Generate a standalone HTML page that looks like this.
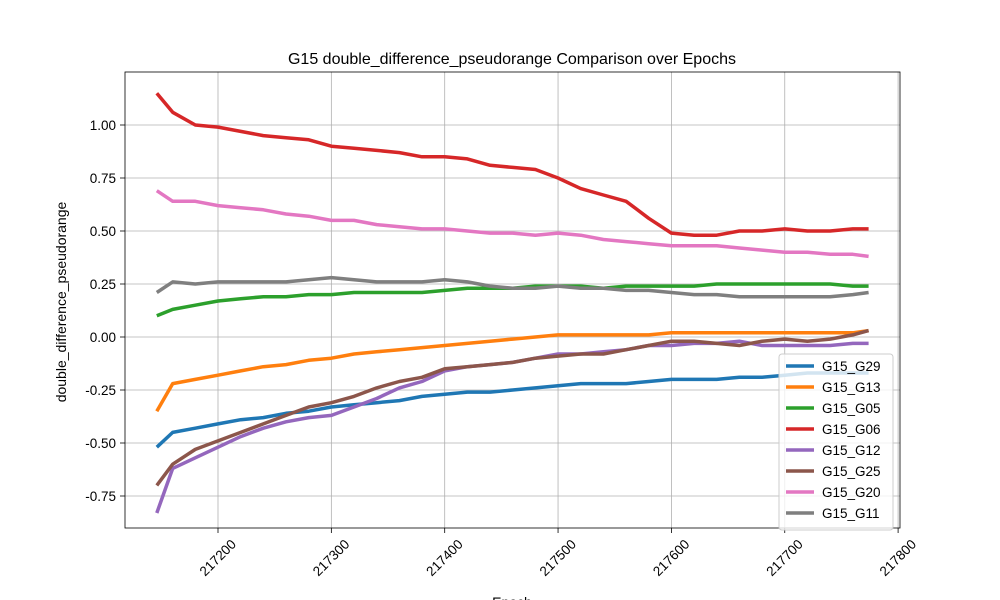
<!DOCTYPE html>
<html><head><meta charset="utf-8"><style>
body{margin:0;background:#fff;}
svg{display:block;font-family:"Liberation Sans","DejaVu Sans",sans-serif;}
</style></head><body>
<svg id="chart" width="1000" height="600">
<rect width="1000" height="600" fill="#fff"/>
<text x="512" y="64" font-size="16" text-anchor="middle">G15 double_difference_pseudorange Comparison over Epochs</text>
<g id="grid"></g><g id="axes"></g><g id="series"></g><g id="legend"></g>
<text x="512" y="607" font-size="14" text-anchor="middle">Epoch</text>
<text transform="translate(66,302) rotate(-90)" font-size="14" text-anchor="middle">double_difference_pseudorange</text>
</svg>
<script>
const epochs=[217146,217160,217180,217200,217220,217240,217260,217280,217300,217320,217340,217360,217380,217400,217420,217440,217460,217480,217500,217520,217540,217560,217580,217600,217620,217640,217660,217680,217700,217720,217740,217760,217774];
const seriesNames=["G15_G29","G15_G13","G15_G05","G15_G06","G15_G12","G15_G25","G15_G20","G15_G11"];
const g29=[-0.52,-0.45,-0.43,-0.41,-0.39,-0.38,-0.36,-0.35,-0.33,-0.32,-0.31,-0.30,-0.28,-0.27,-0.26,-0.26,-0.25,-0.24,-0.23,-0.22,-0.22,-0.22,-0.21,-0.20,-0.20,-0.20,-0.19,-0.19,-0.18,-0.17,-0.17,-0.17,-0.17];
const g13=[-0.35,-0.22,-0.20,-0.18,-0.16,-0.14,-0.13,-0.11,-0.10,-0.08,-0.07,-0.06,-0.05,-0.04,-0.03,-0.02,-0.01,0.00,0.01,0.01,0.01,0.01,0.01,0.02,0.02,0.02,0.02,0.02,0.02,0.02,0.02,0.02,0.03];
const g05=[0.10,0.13,0.15,0.17,0.18,0.19,0.19,0.20,0.20,0.21,0.21,0.21,0.21,0.22,0.23,0.23,0.23,0.24,0.24,0.24,0.23,0.24,0.24,0.24,0.24,0.25,0.25,0.25,0.25,0.25,0.25,0.24,0.24];
const g06=[1.15,1.06,1.00,0.99,0.97,0.95,0.94,0.93,0.90,0.89,0.88,0.87,0.85,0.85,0.84,0.81,0.80,0.79,0.75,0.70,0.67,0.64,0.56,0.49,0.48,0.48,0.50,0.50,0.51,0.50,0.50,0.51,0.51];
const g12=[-0.83,-0.62,-0.57,-0.52,-0.47,-0.43,-0.40,-0.38,-0.37,-0.33,-0.29,-0.24,-0.21,-0.16,-0.14,-0.13,-0.12,-0.10,-0.08,-0.08,-0.07,-0.06,-0.04,-0.04,-0.03,-0.03,-0.02,-0.04,-0.04,-0.04,-0.04,-0.03,-0.03];
const g25=[-0.70,-0.60,-0.53,-0.49,-0.45,-0.41,-0.37,-0.33,-0.31,-0.28,-0.24,-0.21,-0.19,-0.15,-0.14,-0.13,-0.12,-0.10,-0.09,-0.08,-0.08,-0.06,-0.04,-0.02,-0.02,-0.03,-0.04,-0.02,-0.01,-0.02,-0.01,0.01,0.03];
const g20=[0.69,0.64,0.64,0.62,0.61,0.60,0.58,0.57,0.55,0.55,0.53,0.52,0.51,0.51,0.50,0.49,0.49,0.48,0.49,0.48,0.46,0.45,0.44,0.43,0.43,0.43,0.42,0.41,0.40,0.40,0.39,0.39,0.38];
const g11=[0.21,0.26,0.25,0.26,0.26,0.26,0.26,0.27,0.28,0.27,0.26,0.26,0.26,0.27,0.26,0.24,0.23,0.23,0.24,0.23,0.23,0.22,0.22,0.21,0.20,0.20,0.19,0.19,0.19,0.19,0.19,0.20,0.21];
const xTicks=[217200,217300,217400,217500,217600,217700,217800];
const yTicks=[-0.75,-0.50,-0.25,0.00,0.25,0.50,0.75,1.00];
const allSeries=[g29,g13,g05,g06,g12,g25,g20,g11];
const colors=["#1f77b4","#ff7f0e","#2ca02c","#d62728","#9467bd","#8c564b","#e377c2","#7f7f7f"];
const L=125,R=900,T=72,B=528;
const xs=v=>218+(v-217200)*1.1335;
const ys=v=>337-v*212;
const NS="http://www.w3.org/2000/svg";
function mk(tag,attrs,parent){const e=document.createElementNS(NS,tag);for(const k in attrs)e.setAttribute(k,attrs[k]);parent.appendChild(e);return e;}
const grid=document.getElementById('grid'),axes=document.getElementById('axes'),ser=document.getElementById('series'),leg=document.getElementById('legend');
xTicks.forEach(t=>{const x=xs(t);
 const gl=mk('line',{x1:x,x2:x,y1:T,y2:B,stroke:'#b0b0b0','stroke-width':0.8},grid);
 
 mk('line',{x1:x,x2:x,y1:B,y2:B+5,stroke:'#000','stroke-width':0.8},axes);
 const tx=mk('text',{'font-size':13.5,'text-anchor':'middle',transform:`translate(${x+3},${B+33}) rotate(-45)`},axes);
 tx.textContent=t;
 });
yTicks.forEach(t=>{const y=ys(t);
 const gl=mk('line',{x1:L,x2:R,y1:y,y2:y,stroke:'#b0b0b0','stroke-width':0.8},grid);
 
 mk('line',{x1:L-5,x2:L,y1:y,y2:y,stroke:'#000','stroke-width':0.8},axes);
 const tx=mk('text',{x:L-9,y:y+5,'font-size':13.5,'text-anchor':'end'},axes);
 tx.textContent=t.toFixed(2);
 });
const fr=mk('rect',{x:L,y:T,width:R-L,height:B-T,fill:'none',stroke:'#000','stroke-width':0.8},axes);

allSeries.forEach((s,i)=>{const d=s.map((v,j)=>(j?'L':'M')+xs(epochs[j]).toFixed(1)+','+ys(v).toFixed(1)).join('');
 const p=mk('path',{d:d,fill:'none',stroke:colors[i],'stroke-width':3.5,'stroke-linejoin':'round'},ser);
 
 });
const lb=mk('rect',{x:779,y:354,width:114,height:176,rx:3,fill:'#fff','fill-opacity':0.8,stroke:'#ccc'},leg);

seriesNames.forEach((n,i)=>{const y=366+i*21;
 const g=mk('g',{},leg);
 
 mk('line',{x1:786,x2:814,y1:y,y2:y,stroke:colors[i],'stroke-width':3.5},g);
 const t=mk('text',{x:822,y:y+5,'font-size':13.5},g);t.textContent=n;});
</script>
</body></html>
